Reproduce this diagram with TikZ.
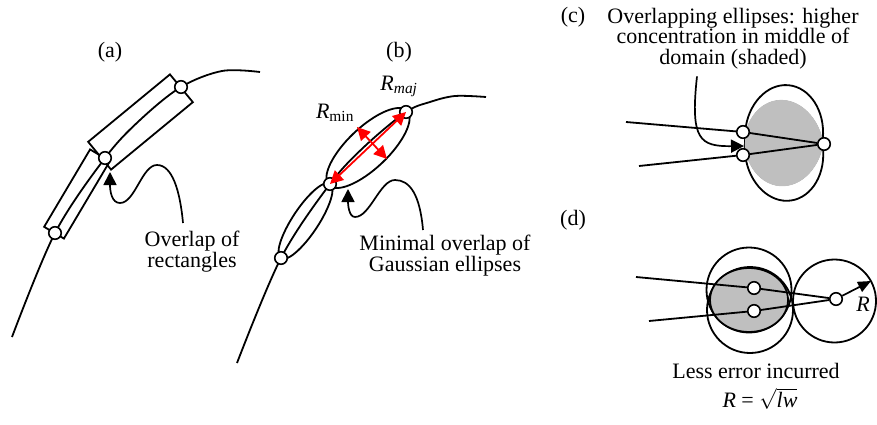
\documentclass[tikz,border=0pt]{standalone}
\usepackage{fontspec}
\setmainfont{Liberation Serif}
\usetikzlibrary{arrows.meta,calc,shapes.geometric}
\begin{document}
\begin{tikzpicture}[x=1pt,y=-1pt,
  lbl/.style={font=\fontsize{22}{20.5}\selectfont, inner sep=0pt, align=center},
  curve/.style={line width=1.8pt},
  outl/.style={draw, line width=1.8pt},
  dot/.style={circle, draw, fill=white, line width=1.6pt, minimum size=12.5pt, inner sep=0pt},
  pointer/.style={line width=1.7pt, -{Triangle[length=13pt,width=13pt]}},
  redarrow/.style={draw=red, line width=1.8pt, {Triangle[length=13pt,width=13pt]}-{Triangle[length=13pt,width=13pt]}},
  shade/.style={fill=gray!50},
]
\useasboundingbox (0,0) rectangle (877,425);

% ---------------- (a) ----------------
\node[lbl] (labA) at (110,52) {(a)};
\node[outl, rectangle, inner sep=0pt, minimum width=90pt, minimum height=23pt, rotate=59.3] (rectA1) at (77,194) {};
\node[outl, rectangle, inner sep=0pt, minimum width=106pt, minimum height=36pt, rotate=39.5] (rectA2) at (140.5,122) {};
\coordinate (a0) at (12,337);
\coordinate (a1) at (55,233);
\coordinate (a2) at (105,158);
\coordinate (a3) at (181,87);
\coordinate (a4) at (260,72);
\draw[curve] plot[smooth, tension=0.55] coordinates {(a0) (a1) (a2) (140,120) (a3) (222,71) (a4)};
\node[dot] (dA1) at (a1) {};
\node[dot] (dA2) at (a2) {};
\node[dot] (dA3) at (a3) {};
\node[lbl, anchor=north] (ovlA) at (192,231) {Overlap of\\rectangles};
\coordinate (tipA) at (110,172);
\draw[pointer] ([xshift=-9pt,yshift=8pt]ovlA.north) .. controls (180,190) and (172,165) .. (157,165)
  .. controls (142,165) and (135,203) .. (120,203) .. controls (112,203) and (110,192) .. (tipA);

% ---------------- (b) ----------------
\node[lbl] (labB) at (399,52) {(b)};
\node[outl, ellipse, inner sep=0pt, minimum width=90pt, minimum height=26pt, rotate=56.5] (ellB1) at (305.5,221) {};
\node[outl, ellipse, inner sep=0pt, minimum width=108pt, minimum height=41pt, rotate=43.5] (ellB2) at (368,148) {};
\coordinate (b0) at (237,363);
\coordinate (b1) at (281,258);
\coordinate (b2) at (330,184);
\coordinate (b3) at (406,112);
\coordinate (b4) at (486,97);
\draw[curve] plot[smooth, tension=0.55] coordinates {(b0) (b1) (b2) (365,146) (b3) (430,102) (455,96) (b4)};
\node[dot] (dB1) at (b1) {};
\node[dot] (dB2) at (b2) {};
\node[dot] (dB3) at (b3) {};
\draw[redarrow] (dB2.center) -- (dB3.center);
\coordinate (mn1) at (357,127);
\coordinate (mn2) at (387,159);
\draw[redarrow] (mn1) -- (mn2);
\node[lbl] (rmaj) at (399,86) {\textit{R}\textsubscript{\textit{maj}}};
\node[lbl] (rmin) at (335,113) {\textit{R}\textsubscript{min}};
\node[lbl, anchor=north] (minB) at (445,235) {Minimal overlap of\\Gaussian ellipses};
\coordinate (tipB) at (348,189);
\draw[pointer] ([xshift=-22pt,yshift=5pt]minB.north) .. controls (420,195) and (410,180) .. (395,180)
  .. controls (380,180) and (370,217) .. (355,217) .. controls (349,217) and (348,205) .. (tipB);

% ---------------- (c) ----------------
\node[lbl, anchor=base] (labC) at (573,23) {(c)};
\node[lbl, anchor=north] (titleC) at (733,8) {Overlapping ellipses: higher\\concentration in middle of\\domain (shaded)};
\node[outl, ellipse, inner sep=0pt, minimum width=78pt, minimum height=100pt, rotate=-5] (ellC1) at (784,135) {};
\node[outl, ellipse, inner sep=0pt, minimum width=78pt, minimum height=100pt, rotate=8] (ellC2) at (784,151) {};
\begin{scope}
  \clip[rotate around={-5:(784,135)}] (784,135) ellipse [x radius=39, y radius=50];
  \draw[shade, draw=gray!50, line width=2.6pt, rotate around={8:(784,151)}] (784,151) ellipse [x radius=39, y radius=50];
\end{scope}
\begin{scope}
  \clip[rotate around={8:(784,151)}] (784,151) ellipse [x radius=39, y radius=50];
  \draw[draw=gray!50, line width=2.6pt, rotate around={-5:(784,135)}] (784,135) ellipse [x radius=39, y radius=50];
\end{scope}
\node[dot] (dC1) at (743,132) {};
\node[dot] (dC2) at (743,155) {};
\node[dot] (dC3) at (824,144) {};
\coordinate (cs1) at (626,122);
\coordinate (cs2) at (639,166);
\draw[curve] (cs1) -- (dC1) -- (dC3);
\draw[curve] (cs2) -- (dC2) -- (dC3);
\coordinate (tipC) at (744,146);
\draw[pointer] ([xshift=-36pt,yshift=-7pt]titleC.south) .. controls (690,140) and (700,146.5) .. (tipC);

% ---------------- (d) ----------------
\node[lbl] (labD) at (573,220) {(d)};
\node[outl, circle, inner sep=0pt, minimum size=85pt] (bigD1) at (749,290) {};
\node[outl, circle, inner sep=0pt, minimum size=86pt] (bigD2) at (750,310) {};
\node[outl, circle, inner sep=0pt, minimum size=83pt] (bigD3) at (834.5,301) {};
\node[outl, shade, ellipse, inner sep=0pt, minimum width=78pt, minimum height=64pt] (shD) at (749,300) {};
\node[dot] (dD1) at (754,288) {};
\node[dot] (dD2) at (754,311) {};
\node[dot] (dD3) at (836,299) {};
\coordinate (ds1) at (636,277);
\coordinate (ds2) at (649,321);
\draw[curve] (ds1) -- (dD1) -- (dD3);
\draw[curve] (ds2) -- (dD2) -- (dD3);
\coordinate (tipD) at (871,281);
\draw[line width=1.7pt, -{Triangle[length=13pt,width=11pt]}] (dD3) -- (tipD);
\node[lbl] (rD) at (863,304) {\textit{R}};
\node[lbl, anchor=north] (lessD) at (756,363) {Less error incurred};
\node[lbl, anchor=north] (formD) at (760,388) {\textit{R} = $\sqrt{\textit{lw}}$};
\end{tikzpicture}
\end{document}
